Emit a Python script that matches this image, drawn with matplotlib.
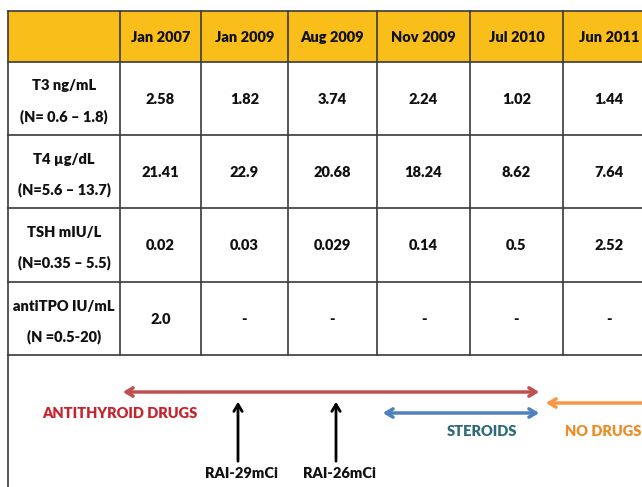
import matplotlib.pyplot as plt
from matplotlib.patches import Rectangle

plt.rcParams["font.family"] = ["Lato", "DejaVu Sans"]

dates = ["Jan 2007", "Jan 2009", "Aug 2009", "Nov 2009", "Jul 2010", "Jun 2011"]
tests = ["T3 ng/mL", "T4 \u00b5g/dL", "TSH mIU/L", "antiTPO IU/mL"]
ranges = ["(N= 0.6 \u2013 1.8)", "(N=5.6 \u2013 13.7)", "(N=0.35 \u2013 5.5)", "(N =0.5-20)"]
t3 = ["2.58", "1.82", "3.74", "2.24", "1.02", "1.44"]
t4 = ["21.41", "22.9", "20.68", "18.24", "8.62", "7.64"]
tsh = ["0.02", "0.03", "0.029", "0.14", "0.5", "2.52"]
anti_tpo = ["2.0", "-", "-", "-", "-", "-"]
rows = [t3, t4, tsh, anti_tpo]

# table geometry in pixels
col_edges = [8, 120, 201, 288, 377, 470, 563, 655]
row_edges = [11, 62, 135, 208, 282, 355]
header_col = "#F9BE1A"
line_col = "#3a3a3a"
txt_w = "heavy"

fig = plt.figure(figsize=(6.42, 4.87), dpi=100)
ax = fig.add_axes([0, 0, 1, 1])
ax.set_xlim(0, 642)
ax.set_ylim(487, 0)
ax.axis("off")

ax.add_patch(Rectangle((col_edges[0], row_edges[0]), col_edges[-1] - col_edges[0],
                       row_edges[1] - row_edges[0], facecolor=header_col, edgecolor="none"))

lw = 1.2
for y in row_edges:
    ax.plot([col_edges[0], col_edges[-1]], [y, y], color=line_col, lw=lw)
for x in col_edges:
    ax.plot([x, x], [row_edges[0], row_edges[-1]], color=line_col, lw=lw)
ax.plot([col_edges[0], col_edges[0]], [row_edges[-1], 490], color=line_col, lw=lw)

fs = 10.5
for i, d in enumerate(dates):
    cx = (col_edges[i + 1] + col_edges[i + 2]) / 2
    ax.text(cx, (row_edges[0] + row_edges[1]) / 2 + 1, d, ha="center", va="center",
            fontsize=fs, fontweight=txt_w, color="#111111")

for r, (name, rng, vals) in enumerate(zip(tests, ranges, rows)):
    top, bot = row_edges[r + 1], row_edges[r + 2]
    cx0 = (col_edges[0] + col_edges[1]) / 2
    ax.text(cx0, top + 24, name, ha="center", va="center", fontsize=fs,
            fontweight=txt_w, color="#111111")
    ax.text(cx0, top + 55, rng, ha="center", va="center", fontsize=fs,
            fontweight=txt_w, color="#111111")
    for i, v in enumerate(vals):
        cx = (col_edges[i + 1] + col_edges[i + 2]) / 2
        ax.text(cx, (top + bot) / 2 + 1, v, ha="center", va="center", fontsize=fs,
                fontweight=txt_w, color="#111111")

# treatment timeline
red = "#C0504D"
blue = "#4F81BD"
orange = "#F79646"
ax.annotate("", xy=(120, 392), xytext=(542, 392),
            arrowprops=dict(arrowstyle="<->,head_length=0.5,head_width=0.3", color=red, lw=2.5))
ax.text(120, 413, "ANTITHYROID DRUGS", ha="center", va="center", fontsize=fs,
        fontweight=txt_w, color="#C8232C")

ax.annotate("", xy=(380, 413), xytext=(542, 413),
            arrowprops=dict(arrowstyle="<->,head_length=0.5,head_width=0.3", color=blue, lw=2.5))
ax.text(482, 431, "STEROIDS", ha="center", va="center", fontsize=fs,
        fontweight=txt_w, color="#2E6B78")

ax.annotate("", xy=(543, 403), xytext=(660, 403),
            arrowprops=dict(arrowstyle="->,head_length=0.5,head_width=0.3", color=orange, lw=2.5),
            annotation_clip=False)
ax.text(565, 431, "NO DRUGS", ha="left", va="center", fontsize=fs,
        fontweight=txt_w, color="#F08A24")

for x, lab in [(238, "RAI-29mCi"), (336, "RAI-26mCi")]:
    ax.annotate("", xy=(x, 399), xytext=(x, 464),
                arrowprops=dict(arrowstyle="->,head_length=0.5,head_width=0.3", color="black", lw=2))
    ax.text(x + 4, 474, lab, ha="center", va="center", fontsize=fs,
            fontweight=txt_w, color="#111111")

fig.savefig("out.png", dpi=100)
